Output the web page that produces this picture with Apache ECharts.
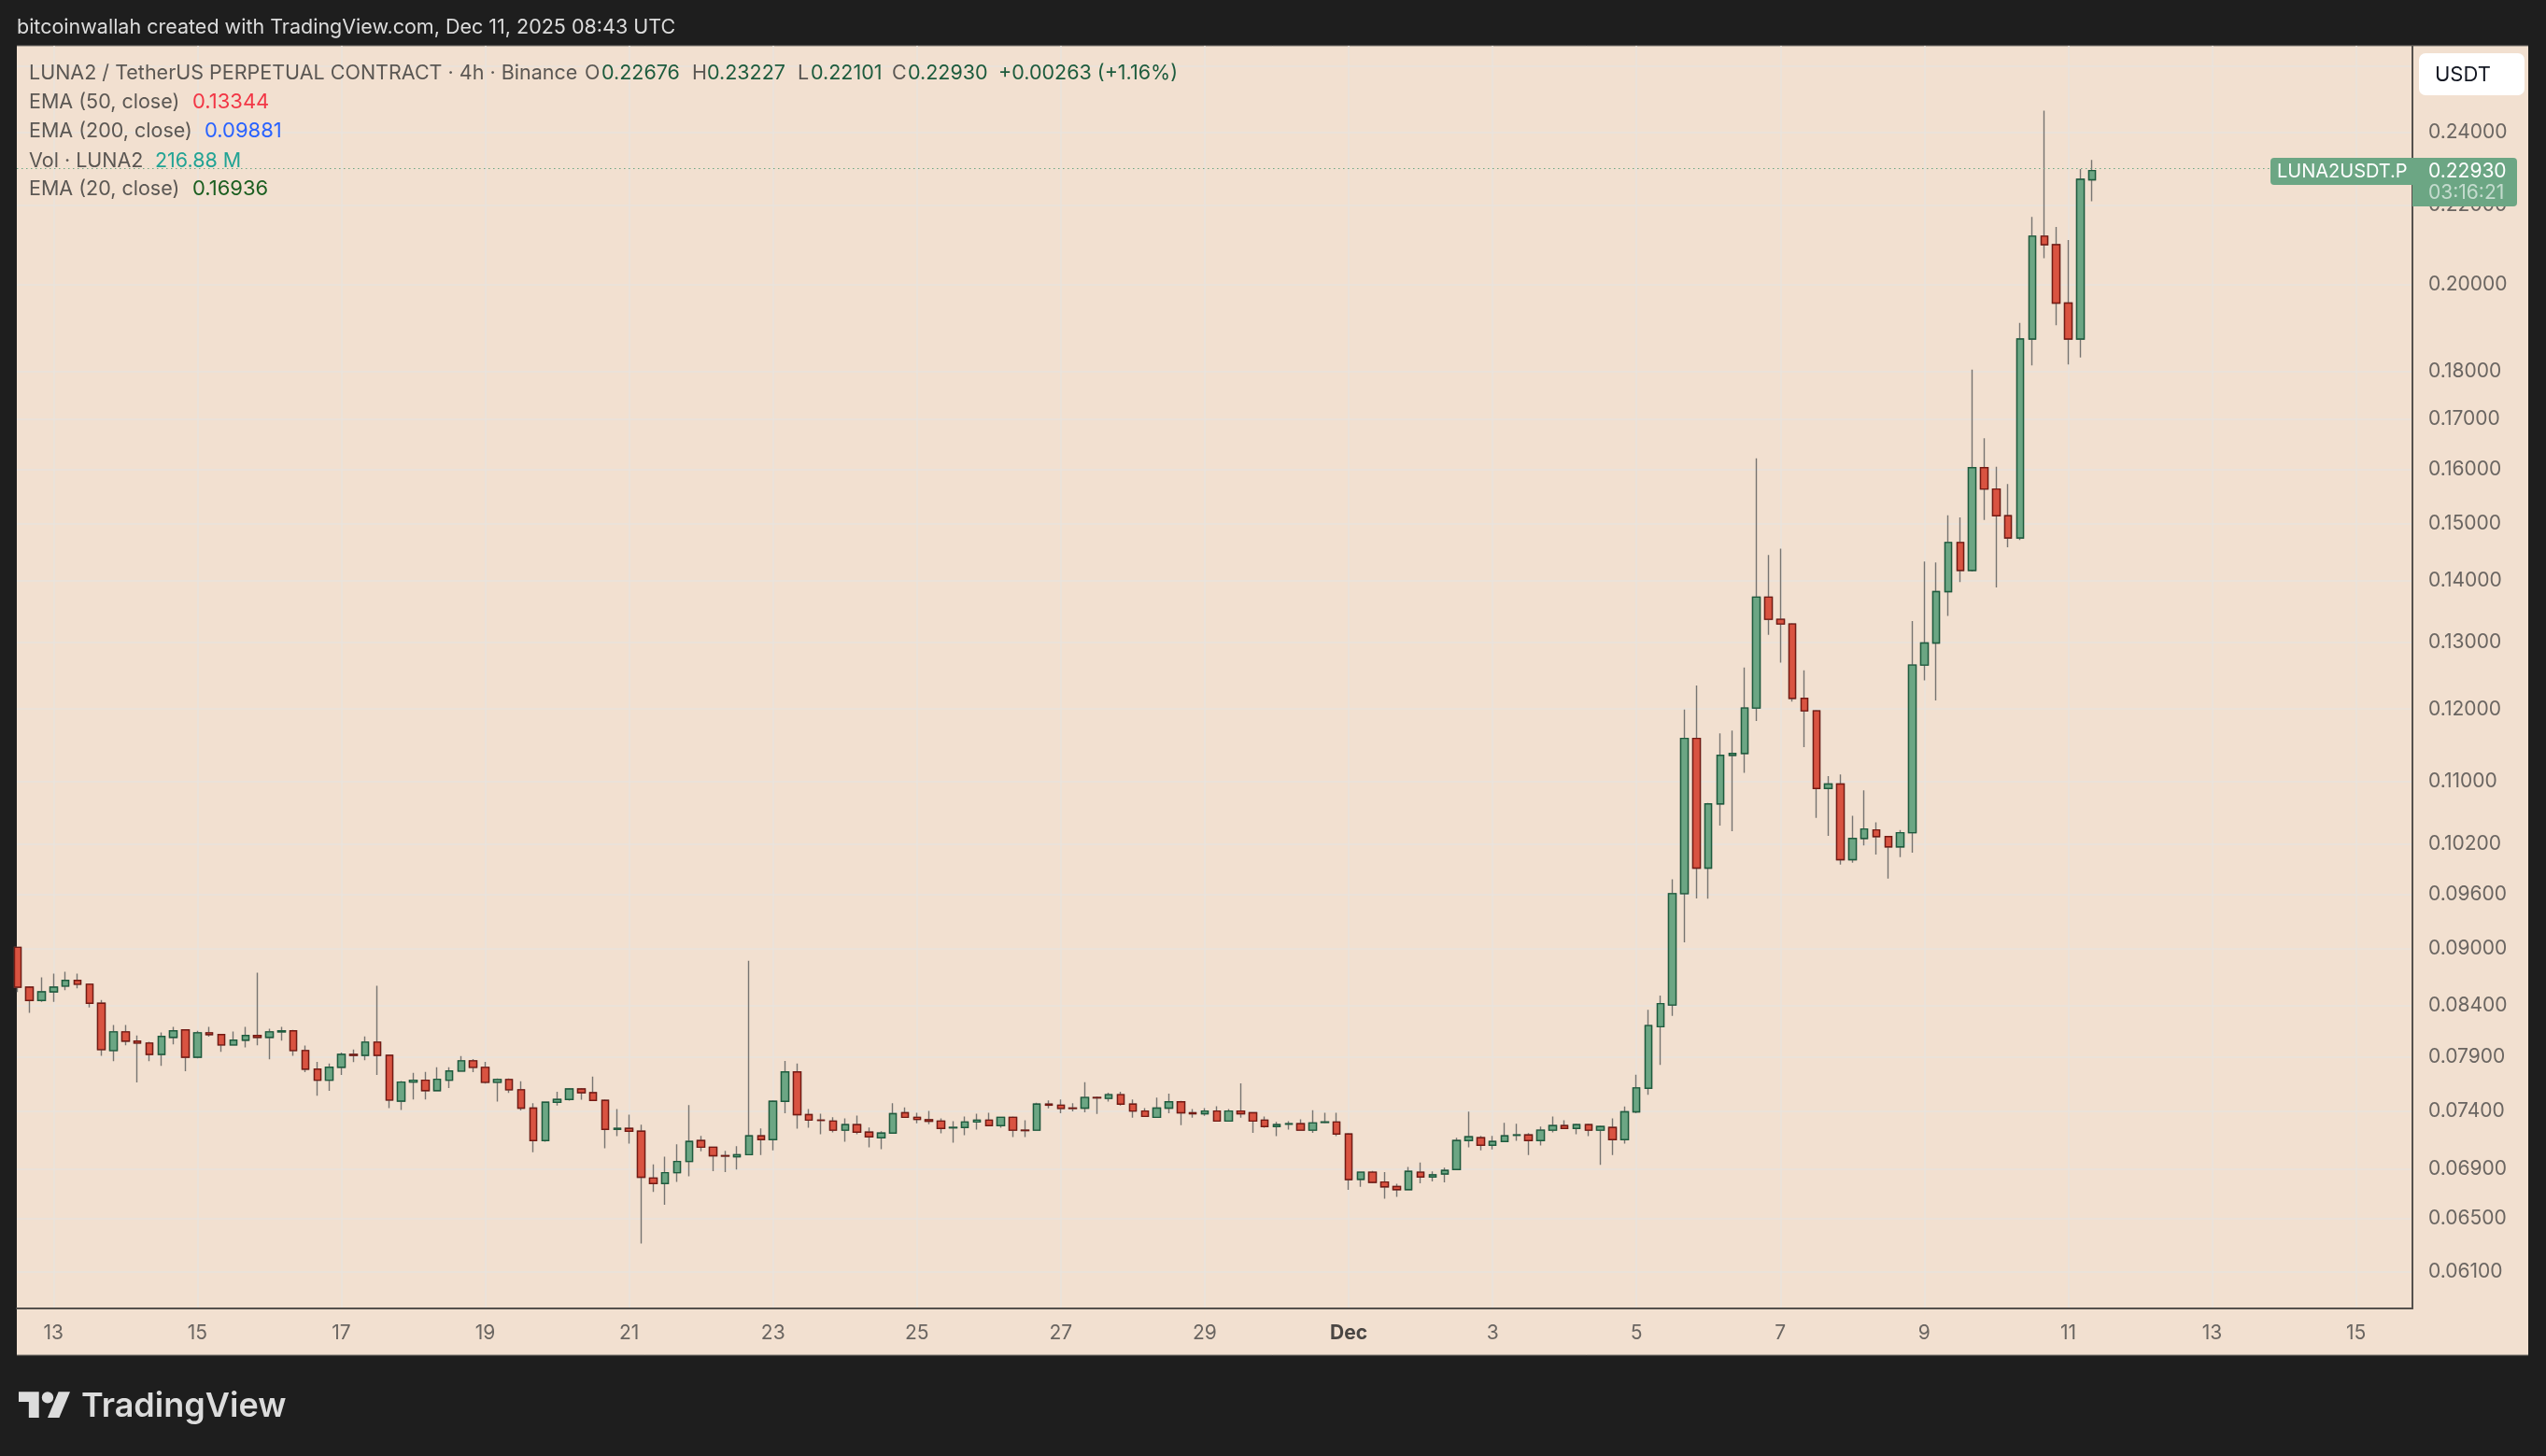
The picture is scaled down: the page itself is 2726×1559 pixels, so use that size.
<!DOCTYPE html>
<html>
<head>
<meta charset="utf-8">
<title>LUNA2USDT.P 4h</title>
<style>
  html, body { margin: 0; padding: 0; background: #1e1e1e; }
  #chart { width: 2726px; height: 1559px; }
</style>
<script src="https://cdn.jsdelivr.net/npm/echarts@6/dist/echarts.min.js"></script>
</head>
<body>
<div id="chart"></div>
<script>
// 4h candles, first one opens Nov 12 2025 12:00 UTC
const opens = [
  0.0901, 0.08589, 0.08452, 0.0854, 0.08599, 0.08658, 0.08619, 0.08423, 0.07958, 0.08139,
  0.08049, 0.0803, 0.07921, 0.08085, 0.08158, 0.07894, 0.0813, 0.08112, 0.08012, 0.08058,
  0.08103, 0.08085, 0.08139, 0.08149, 0.07958, 0.07782, 0.07679, 0.078, 0.07921, 0.07912,
  0.08039, 0.07912, 0.07489, 0.07662, 0.07679, 0.07584, 0.07679, 0.07764, 0.0786, 0.07799,
  0.0766, 0.07686, 0.07591, 0.07426, 0.07142, 0.07478, 0.07504, 0.07599, 0.07565, 0.07495,
  0.07239, 0.07247, 0.07222, 0.06827, 0.06782, 0.06871, 0.06964, 0.07142, 0.07085, 0.07013,
  0.07005, 0.07021, 0.07182, 0.0715, 0.07487, 0.07756, 0.07368, 0.07319, 0.07311, 0.07231,
  0.07279, 0.07214, 0.07166, 0.07206, 0.07384, 0.07344, 0.07322, 0.07311, 0.07252, 0.07255,
  0.07303, 0.07319, 0.07271, 0.07344, 0.07231, 0.07231, 0.07461, 0.07452, 0.07426, 0.07426,
  0.07521, 0.07513, 0.07547, 0.07461, 0.074, 0.07344, 0.07426, 0.07482, 0.07384, 0.07376,
  0.074, 0.07311, 0.074, 0.07384, 0.07319, 0.07263, 0.07284, 0.07287, 0.07231, 0.073,
  0.07303, 0.07198, 0.06816, 0.06875, 0.06794, 0.06757, 0.06733, 0.06875, 0.06836, 0.0686,
  0.06897, 0.07142, 0.07166, 0.07101, 0.07134, 0.07187, 0.0719, 0.07142, 0.07231, 0.07271,
  0.07247, 0.07279, 0.07231, 0.07255, 0.0715, 0.07392, 0.07605, 0.08189, 0.08406, 0.09611,
  0.11584, 0.09911, 0.10706, 0.1135, 0.11376, 0.12014, 0.13728, 0.13367, 0.13292, 0.12156,
  0.11974, 0.10906, 0.10965, 0.10011, 0.10271, 0.10376, 0.10294, 0.10167, 0.10341, 0.12651,
  0.12991, 0.13819, 0.14661, 0.14178, 0.16041, 0.15635, 0.15141, 0.14742, 0.18724, 0.2119,
  0.20976, 0.19553, 0.18724, 0.22676
];
const closes = [
  0.08589, 0.08452, 0.0854, 0.08589, 0.08658, 0.08619, 0.08423, 0.07967, 0.08139, 0.08049,
  0.0803, 0.07921, 0.08094, 0.08149, 0.07894, 0.0813, 0.08112, 0.08012, 0.08058, 0.08103,
  0.08085, 0.08139, 0.08149, 0.07958, 0.07782, 0.07679, 0.078, 0.07921, 0.07912, 0.08039,
  0.07912, 0.07498, 0.07662, 0.07679, 0.07584, 0.07688, 0.07765, 0.0786, 0.07799, 0.0766,
  0.07686, 0.07591, 0.07426, 0.07142, 0.07478, 0.07504, 0.07599, 0.07565, 0.07495, 0.07239,
  0.07247, 0.07222, 0.06834, 0.06782, 0.06871, 0.06964, 0.07134, 0.07085, 0.07013, 0.0701,
  0.07021, 0.07182, 0.0715, 0.07487, 0.07756, 0.07368, 0.07319, 0.07317, 0.07231, 0.07279,
  0.07214, 0.07174, 0.07206, 0.07376, 0.07344, 0.07325, 0.07309, 0.07247, 0.07255, 0.07303,
  0.07319, 0.07271, 0.07344, 0.07231, 0.07228, 0.07461, 0.07452, 0.07423, 0.07423, 0.07521,
  0.07518, 0.07547, 0.07461, 0.074, 0.07352, 0.07426, 0.07482, 0.07384, 0.07376, 0.074,
  0.07311, 0.074, 0.07376, 0.07311, 0.07263, 0.07279, 0.07287, 0.07231, 0.07295, 0.07303,
  0.07198, 0.06815, 0.06875, 0.06792, 0.06755, 0.06733, 0.06882, 0.06836, 0.06853, 0.0689,
  0.07142, 0.07174, 0.07101, 0.07134, 0.07182, 0.0719, 0.07142, 0.07231, 0.07271, 0.07247,
  0.07279, 0.07231, 0.07263, 0.0715, 0.07392, 0.07608, 0.08201, 0.0842, 0.09611, 0.11584,
  0.09911, 0.10706, 0.1135, 0.11376, 0.12014, 0.13728, 0.13367, 0.13292, 0.12156, 0.11974,
  0.10906, 0.10965, 0.10011, 0.10271, 0.10388, 0.10294, 0.10167, 0.10341, 0.12651, 0.12991,
  0.13819, 0.14661, 0.14178, 0.16041, 0.15635, 0.15141, 0.14742, 0.18724, 0.2119, 0.20976,
  0.19553, 0.18724, 0.22692, 0.2293
];
const highs = [
  0.0901, 0.08599, 0.0869, 0.0873, 0.08749, 0.0873, 0.08628, 0.08456, 0.08206, 0.08206,
  0.08103, 0.08042, 0.08133, 0.08188, 0.08158, 0.08149, 0.08188, 0.08112, 0.08142, 0.08188,
  0.08739, 0.0817, 0.08188, 0.08158, 0.08006, 0.07851, 0.07834, 0.07939, 0.07967, 0.08094,
  0.08602, 0.07912, 0.07671, 0.07748, 0.07757, 0.078, 0.078, 0.07906, 0.07877, 0.07851,
  0.07695, 0.07695, 0.07669, 0.07469, 0.07478, 0.07573, 0.07608, 0.07608, 0.07712, 0.07504,
  0.07417, 0.07368, 0.07279, 0.0694, 0.07005, 0.0711, 0.07452, 0.07182, 0.07085, 0.07053,
  0.07093, 0.08866, 0.07247, 0.07496, 0.0786, 0.07834, 0.07417, 0.07376, 0.07344, 0.07335,
  0.0736, 0.07255, 0.07222, 0.07469, 0.07432, 0.07384, 0.074, 0.07335, 0.07311, 0.07352,
  0.07376, 0.07384, 0.07344, 0.07352, 0.07319, 0.07473, 0.07495, 0.07504, 0.07469, 0.0766,
  0.0753, 0.07565, 0.07573, 0.07504, 0.07426, 0.07521, 0.07556, 0.07491, 0.07417, 0.07426,
  0.07443, 0.07417, 0.07651, 0.07384, 0.07352, 0.07303, 0.07311, 0.07327, 0.07408, 0.07384,
  0.07384, 0.07206, 0.06875, 0.06885, 0.06875, 0.0678, 0.06919, 0.06956, 0.06882, 0.06912,
  0.07166, 0.07395, 0.07182, 0.07182, 0.07295, 0.07287, 0.07206, 0.07263, 0.07352, 0.07319,
  0.07287, 0.07287, 0.07271, 0.07335, 0.0744, 0.0773, 0.08358, 0.08502, 0.09778, 0.11991,
  0.12345, 0.10718, 0.11654, 0.11693, 0.12613, 0.16223, 0.14441, 0.14554, 0.13307, 0.1257,
  0.11987, 0.11069, 0.11091, 0.10553, 0.10882, 0.1047, 0.10294, 0.10376, 0.1334, 0.14328,
  0.14312, 0.15147, 0.15112, 0.1805, 0.16617, 0.1606, 0.1573, 0.19092, 0.2169, 0.24641,
  0.21428, 0.21095, 0.22974, 0.23227
];
const lows = [
  0.08537, 0.08327, 0.08439, 0.08439, 0.08557, 0.08576, 0.08382, 0.07909, 0.07857, 0.08009,
  0.07659, 0.07857, 0.07814, 0.08018, 0.07762, 0.07883, 0.08091, 0.07945, 0.08012, 0.07988,
  0.08009, 0.07874, 0.08054, 0.07909, 0.07754, 0.07538, 0.07581, 0.07728, 0.07848, 0.07866,
  0.07728, 0.07426, 0.07409, 0.07503, 0.07503, 0.07584, 0.07607, 0.07764, 0.07753, 0.07649,
  0.07484, 0.07562, 0.07406, 0.07042, 0.07131, 0.07449, 0.07492, 0.07501, 0.07495, 0.07075,
  0.07179, 0.07115, 0.0631, 0.06714, 0.0661, 0.06795, 0.06841, 0.0705, 0.06883, 0.06876,
  0.06898, 0.07021, 0.07018, 0.07058, 0.07381, 0.07244, 0.07253, 0.07196, 0.07212, 0.07131,
  0.07196, 0.07083, 0.07067, 0.07206, 0.07344, 0.07292, 0.07284, 0.07204, 0.07123, 0.07187,
  0.07236, 0.07271, 0.07252, 0.07171, 0.07171, 0.07231, 0.07423, 0.07381, 0.07397, 0.07389,
  0.07373, 0.07484, 0.07449, 0.07341, 0.07352, 0.07344, 0.07381, 0.07276, 0.07341, 0.07357,
  0.07311, 0.07311, 0.07341, 0.07209, 0.07252, 0.07179, 0.07236, 0.07231, 0.07209, 0.07292,
  0.07179, 0.06731, 0.06755, 0.06784, 0.06659, 0.06674, 0.06733, 0.06784, 0.06799, 0.06792,
  0.06897, 0.07083, 0.07058, 0.07066, 0.07134, 0.07139, 0.07018, 0.07099, 0.07212, 0.07247,
  0.07196, 0.07179, 0.06937, 0.07018, 0.07115, 0.07381, 0.07545, 0.07822, 0.08298, 0.09063,
  0.09555, 0.09552, 0.10431, 0.10361, 0.11113, 0.11827, 0.13121, 0.12688, 0.12109, 0.11463,
  0.10526, 0.10302, 0.09952, 0.09974, 0.10185, 0.10074, 0.09785, 0.10043, 0.10096, 0.1242,
  0.12123, 0.13422, 0.1398, 0.14156, 0.15065, 0.13889, 0.14576, 0.14704, 0.18142, 0.20635,
  0.19036, 0.18163, 0.18313, 0.22101
];

const priceTicks = [0.26, 0.24, 0.22, 0.2, 0.18, 0.17, 0.16, 0.15, 0.14, 0.13, 0.12, 0.11, 0.102, 0.096, 0.09, 0.084, 0.079, 0.074, 0.069, 0.065, 0.061];
const dayTicks = ['2025-11-13', '2025-11-15', '2025-11-17', '2025-11-19', '2025-11-21', '2025-11-23', '2025-11-25', '2025-11-27', '2025-11-29',
  '2025-12-01', '2025-12-03', '2025-12-05', '2025-12-07', '2025-12-09', '2025-12-11', '2025-12-13', '2025-12-15'];
const dayLabels = ['13', '15', '17', '19', '21', '23', '25', '27', '29', 'Dec', '3', '5', '7', '9', '11', '13', '15'];

const FOUR_H = 4 * 3600 * 1000;
const T0 = Date.UTC(2025, 10, 12, 12);
const times = opens.map((_, i) => T0 + i * FOUR_H);
const dayMs = dayTicks.map(d => Date.parse(d + 'T00:00:00Z'));
const lastClose = closes[closes.length - 1];

const FONT = 'Inter, "Noto Sans", sans-serif';
const GREEN = '#6ca684', GREEN_EDGE = '#1d5b3d', RED = '#d95341', RED_EDGE = '#741a13';
const PANEL = '#f2e0d0', GRID = '#e8e3dd', TEXT = '#5b5753', AXIS_TEXT = '#6a6561', OHLC = '#1d5b3d';

// one px = 4h / 12.84, the plot starts 0.8px left of the first candle centre
const pxMs = FOUR_H / 12.84;
const xMin = T0 - 0.8 * pxMs;
const xMax = xMin + (2583 - 18) * pxMs;

const txt = (text, x, y, fill, size, weight) => ({
  type: 'text', x, y, z: 100, silent: true,
  style: { text, fill, font: (weight || 'normal') + ' ' + size + 'px ' + FONT, verticalAlign: 'middle' }
});
const box = (x, y, width, height, fill, r, z) => ({
  type: 'rect', z, silent: true, shape: { x, y, width, height, r }, style: { fill }
});
const logoShape = (type, shape) => ({
  type, z: 100, silent: true, x: 20, y: 1484, scaleX: 1.55, scaleY: 1.55, shape, style: { fill: '#dcdcdc' }
});

const option = {
  animation: false,
  backgroundColor: '#1e1e1e',
  textStyle: { fontFamily: FONT },
  grid: { left: 18, right: 143, top: 49, bottom: 158 },
  xAxis: {
    type: 'value',
    min: xMin,
    max: xMax,
    axisLine: { show: true, onZero: false, lineStyle: { color: '#55514d', width: 2 } },
    axisTick: { show: false, customValues: dayMs },
    splitLine: { show: true, lineStyle: { color: GRID, width: 1.5 } },
    axisLabel: {
      customValues: dayMs,
      margin: 16,
      fontSize: 21,
      color: AXIS_TEXT,
      fontFamily: FONT,
      hideOverlap: false,
      formatter: v => {
        const lab = dayLabels[dayMs.indexOf(v)];
        return lab === 'Dec' ? '{b|Dec}' : lab;
      },
      rich: { b: { fontWeight: 'bold', fontSize: 21, color: '#4a4643', fontFamily: FONT } }
    }
  },
  yAxis: {
    type: 'log',
    logBase: 10,
    position: 'right',
    min: 0.05836,
    max: 0.26644,
    axisLine: { show: true, onZero: false, lineStyle: { color: '#55514d', width: 2 } },
    axisTick: { show: false, customValues: priceTicks },
    splitLine: { show: true, lineStyle: { color: GRID, width: 1.5 } },
    axisLabel: {
      customValues: priceTicks,
      margin: 17,
      fontSize: 21,
      color: AXIS_TEXT,
      fontFamily: FONT,
      padding: [5, 0, 0, 0],
      formatter: v => Number(v).toFixed(5)
    }
  },
  series: [
    {
      // full range: only the wicks stay visible, bodies are covered by the next series
      name: 'wicks',
      type: 'candlestick',
      barWidth: 8,
      silent: true,
      encode: { x: 0, y: [1, 2, 3, 4] },
      itemStyle: { color: 'rgba(0,0,0,0)', color0: 'rgba(0,0,0,0)', borderColor: '#777471', borderColor0: '#777471', borderWidth: 1.4 },
      data: times.map((t, i) => [t, opens[i], closes[i], lows[i], highs[i]]),
      markLine: {
        silent: true,
        symbol: 'none',
        label: { show: false },
        lineStyle: { color: GREEN, type: [1.5, 3.5], width: 1.2 },
        data: [{ yAxis: lastClose }]
      }
    },
    {
      name: 'LUNA2USDT.P',
      type: 'candlestick',
      barWidth: 8,
      encode: { x: 0, y: [1, 2, 3, 4] },
      itemStyle: { color: GREEN, color0: RED, borderColor: GREEN_EDGE, borderColor0: RED_EDGE, borderWidth: 1.4 },
      data: times.map((t, i) => [t, opens[i], closes[i], Math.min(opens[i], closes[i]), Math.max(opens[i], closes[i])])
    }
  ],
  graphic: {
    elements: [
      box(18, 49, 2689, 1402, PANEL, 0, -10),
      { type: 'line', z: -9, silent: true, shape: { x1: 18, y1: 49, x2: 2707, y2: 49 }, style: { stroke: '#77726d', lineWidth: 1 } },
      { type: 'line', z: -9, silent: true, shape: { x1: 18, y1: 1451, x2: 2707, y2: 1451 }, style: { stroke: '#77726d', lineWidth: 1 } },

      txt('bitcoinwallah created with TradingView.com, Dec 11, 2025 08:43 UTC', 18, 30, '#dcdcdc', 21.5),

      txt('LUNA2 / TetherUS PERPETUAL CONTRACT · 4h · Binance', 31, 78.5, TEXT, 21.5),
      txt('O', 626, 78.5, TEXT, 21.5), txt('0.22676', 644, 78.5, OHLC, 21.5),
      txt('H', 741, 78.5, TEXT, 21.5), txt('0.23227', 757, 78.5, OHLC, 21.5),
      txt('L', 854, 78.5, TEXT, 21.5), txt('0.22101', 868, 78.5, OHLC, 21.5),
      txt('C', 955, 78.5, TEXT, 21.5), txt('0.22930', 972, 78.5, OHLC, 21.5),
      txt('+0.00263 (+1.16%)', 1069, 78.5, OHLC, 21.5),

      txt('EMA (50, close)', 31, 109.5, TEXT, 21.5), txt('0.13344', 206, 109.5, '#f23645', 22),
      txt('EMA (200, close)', 31, 140.5, TEXT, 21.5), txt('0.09881', 219, 140.5, '#2962ff', 22),
      txt('Vol · LUNA2', 31, 172.5, TEXT, 21.5), txt('216.88 M', 166, 172.5, '#22a394', 21.5),
      txt('EMA (20, close)', 31, 202.5, TEXT, 21.5), txt('0.16936', 206, 202.5, '#1b5e20', 22),

      box(2590, 57, 113, 45, '#ffffff', 7, 90),
      txt('USDT', 2607, 80, '#131722', 22),

      box(2431, 169, 152, 29, GREEN, [4, 0, 0, 4], 90),
      box(2583, 169, 112, 52, GREEN, [0, 4, 4, 0], 90),
      txt('LUNA2USDT.P', 2438, 183.5, '#ffffff', 20),
      txt('0.22930', 2600, 183.5, '#ffffff', 21),
      txt('03:16:21', 2600, 206.5, 'rgba(255,255,255,0.6)', 21),

      // TradingView mark
      logoShape('polygon', { points: [[14, 22], [7, 22], [7, 11], [0, 11], [0, 4], [14, 4]] }),
      logoShape('polygon', { points: [[28, 22], [20, 22], [27.5, 4], [35.5, 4]] }),
      logoShape('circle', { cx: 20, cy: 8, r: 4 }),
      txt('TradingView', 87, 1506, '#dcdcdc', 36, '600')
    ]
  }
};

const chart = echarts.init(document.getElementById('chart'), null, { renderer: 'canvas', width: 2726, height: 1559 });
chart.setOption(option);
</script>
</body>
</html>
